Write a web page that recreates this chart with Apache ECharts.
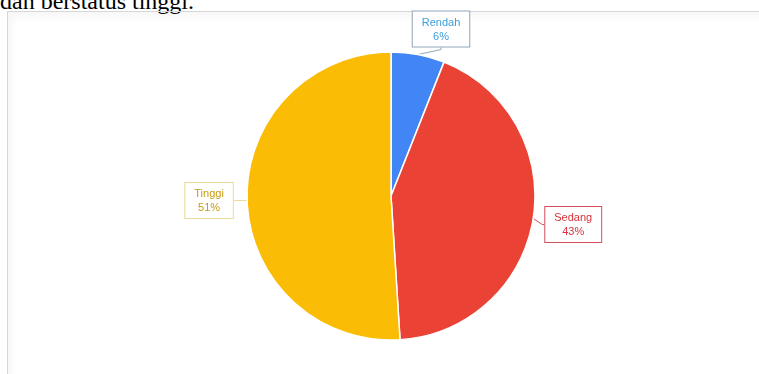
<!DOCTYPE html>
<html>
<head>
<meta charset="utf-8">
<script src="https://cdn.jsdelivr.net/npm/echarts@6/dist/echarts.min.js"></script>
<style>
  html, body { margin: 0; padding: 0; background: #fff; }
  #page { position: relative; width: 759px; height: 374px; overflow: hidden; }
  #caption {
    position: absolute; left: 0; top: -12px;
    font-family: "Liberation Serif", "DejaVu Serif", serif;
    font-size: 24px; color: #000; white-space: nowrap;
  }
  #frame {
    position: absolute; left: 7px; top: 11px; width: 800px; height: 400px;
    border-left: 1px solid #d6d6d6; border-top: 1px solid #d6d6d6;
    box-shadow: inset 4px 4px 8px rgba(0,0,0,0.04);
  }
  #chart { position: absolute; left: 0; top: 0; width: 759px; height: 374px; }
</style>
</head>
<body>
<div id="page">
  <div id="caption">dan berstatus tinggi.</div>
  <div id="frame"></div>
  <div id="chart"></div>
</div>
<script>
// Status categories and their shares (percent)
const categories = ['Rendah', 'Sedang', 'Tinggi'];
const shares = [6, 43, 51];
const sliceColors = ['#4285F4', '#EA4335', '#FBBC05'];
const textColors = ['#3aa0dc', '#d8323c', '#c89b12'];
const boxBorders = ['#8fa6bd', '#d2505a', '#eadb9c'];

// Callout box centre relative to the slice's outer edge point
const calloutOffsets = {
  Rendah: { dx: 23, dy: -8, verticalAlign: 'bottom' },
  Sedang: { dx: 40, dy: 6, verticalAlign: 'middle' },
  Tinggi: { dx: -38, dy: 0, verticalAlign: 'middle' }
};

const data = categories.map((name, i) => ({
  name: name,
  value: shares[i],
  itemStyle: { color: sliceColors[i] },
  label: {
    color: textColors[i],
    borderColor: boxBorders[i]
  },
  labelLine: { lineStyle: { color: boxBorders[i] } }
}));

const chart = echarts.init(document.getElementById('chart'), null, { renderer: 'canvas' });
chart.setOption({
  animation: false,
  series: [{
    type: 'pie',
    center: [391, 196],
    radius: [0, 144],
    startAngle: 90,
    clockwise: true,
    data: data,
    itemStyle: { borderColor: '#ffffff', borderWidth: 1.5 },
    label: {
      show: true,
      position: 'outside',
      formatter: '{b}\n{d}%',
      fontFamily: 'Liberation Sans, Arial, sans-serif',
      fontSize: 11,
      lineHeight: 14,
      align: 'center',
      backgroundColor: '#ffffff',
      borderWidth: 1,
      padding: [4, 9, 3, 9]
    },
    labelLine: { show: true, length: 4, length2: 2, lineStyle: { width: 1 } },
    labelLayout: function (params) {
      const name = categories[params.dataIndex];
      const off = calloutOffsets[name];
      const p = params.labelLinePoints ? params.labelLinePoints[0] : [params.rect.x, params.rect.y];
      return {
        x: p[0] + off.dx,
        y: p[1] + off.dy,
        align: 'center',
        verticalAlign: off.verticalAlign
      };
    }
  }]
});
</script>
</body>
</html>
